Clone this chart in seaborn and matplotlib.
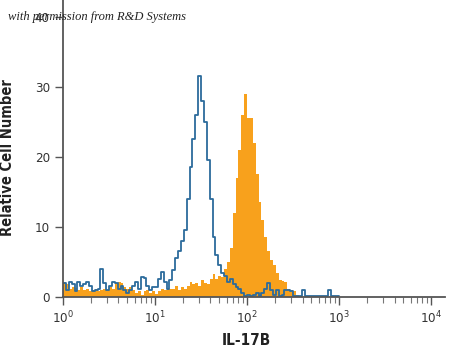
import numpy as np
import pandas as pd
import matplotlib
matplotlib.use("Agg")
import matplotlib.pyplot as plt
import seaborn as sns

# 🔹 histogram counts, one value per channel (1/32 decade), starting at 10^0
isotype_counts = [
    2.0, 1.0, 2.2, 1.8, 0.8, 2.2, 1.5, 1.8, 2.2, 1.5,
    0.8, 1.0, 1.2, 4.0, 2.0, 1.0, 1.5, 2.2, 2.0, 1.2,
    1.6, 1.0, 0.5, 1.0, 1.5, 2.2, 1.2, 2.9, 2.7, 1.5,
    1.0, 1.4, 1.4, 2.5, 3.6, 2.2, 1.2, 2.4, 3.8, 5.6,
    6.5, 8.0, 9.5, 14.0, 18.5, 22.5, 26.0, 31.5, 28.0, 25.0,
    19.5, 14.0, 8.5, 6.0, 4.5, 3.4, 3.0, 2.2, 2.6, 1.8,
    1.4, 1.2, 0.6, 0.2, 0.3, 0.2, 0.3, 0.5, 0.2, 0.6,
    1.2, 2.0, 1.0, 0.3, 1.0, 0.2, 0.3, 1.0, 1.0, 0.8,
    0.1, 0.1, 0.2, 1.0, 0.1, 0.1, 0.1, 0.1, 0.1, 0.1,
    0.1, 0.1, 1.0, 0.1, 0.1, 0.1,
]
il17b_counts = [
    2.2, 1.8, 1.2, 1.4, 1.3, 1.0, 1.4, 1.0, 1.2, 0.8,
    1.0, 1.2, 0.8, 1.0, 1.2, 1.0, 1.4, 1.2, 2.0, 2.2,
    2.0, 1.4, 1.2, 1.4, 1.0, 0.6, 0.8, 0.3, 0.8, 1.0,
    0.6, 0.8, 0.4, 0.9, 1.2, 1.0, 1.3, 1.1, 1.2, 1.5,
    1.0, 1.4, 1.2, 1.6, 2.2, 1.8, 2.0, 1.6, 2.4, 2.0,
    1.8, 2.6, 3.3, 2.6, 3.0, 2.9, 4.0, 5.0, 7.0, 12.0,
    17.0, 21.0, 26.0, 29.0, 25.5, 25.5, 22.0, 17.5, 13.5, 11.0,
    8.5, 6.5, 5.3, 4.5, 3.4, 2.4, 2.3, 2.2, 1.2, 1.0,
    0.9, 0.3, 0.2,
]
channels_per_decade = 32
y_ticks = [0, 10, 20, 30, 40]

blue = "#2c6b9c"
orange = "#f8a11c"

def to_frame(counts):
    idx = np.arange(len(counts))
    return pd.DataFrame({
        "fluor": 10 ** ((idx + 0.5) / channels_per_decade),
        "count": counts,
    })

df_iso = to_frame(isotype_counts)
df_il = to_frame(il17b_counts)

sns.set_style("ticks")
plt.rcParams["font.family"] = ["DejaVu Sans"]
plt.rcParams["font.stretch"] = "condensed"
plt.rcParams["mathtext.fontset"] = "custom"
plt.rcParams["mathtext.rm"] = "DejaVu Sans:stretch=condensed"

fig = plt.figure(figsize=(4.5, 3.56), dpi=100)
ax = fig.add_axes([63 / 450, 59 / 356, 382 / 450, 297 / 356])

sns.histplot(data=df_il, x="fluor", weights="count", log_scale=True,
             binwidth=1 / channels_per_decade,
             binrange=(0, len(il17b_counts) / channels_per_decade),
             element="step", fill=True, color=orange, alpha=1,
             linewidth=0, ax=ax)
sns.histplot(data=df_iso, x="fluor", weights="count", log_scale=True,
             binwidth=1 / channels_per_decade,
             binrange=(0, len(isotype_counts) / channels_per_decade),
             element="step", fill=False, color=blue, linewidth=1.3, ax=ax)

ax.set_xlim(1, 10 ** 4.15)
ax.set_ylim(0, 42.4)
ax.set_yticks(y_ticks)
ax.set_xticks([1, 10, 100, 1000, 10000])

for side in ["top", "right"]:
    ax.spines[side].set_visible(False)
for side in ["left", "bottom"]:
    ax.spines[side].set_color("#555555")
    ax.spines[side].set_linewidth(1.3)

ax.tick_params(axis="both", which="major", colors="#555555", labelcolor="#333333",
               labelsize=9.5, width=1, length=6)
ax.tick_params(axis="x", which="minor", colors="#777777", width=0.8, length=4)

ax.set_xlabel("IL-17B", fontsize=11, fontweight="bold", color="#222222")
ax.set_ylabel("Relative Cell Number", fontsize=10.5, fontweight="bold", color="#222222")
ax.xaxis.set_label_coords(0.48, -0.12)
ax.yaxis.set_label_coords(-0.125, 0.47)

fig.text(8 / 450, 1 - 17 / 356, "with permission from R&D Systems",
         family=["Liberation Serif", "DejaVu Serif"], style="italic",
         fontsize=9, color="#222222", va="center", ha="left")

fig.savefig("out.png", dpi=100)
